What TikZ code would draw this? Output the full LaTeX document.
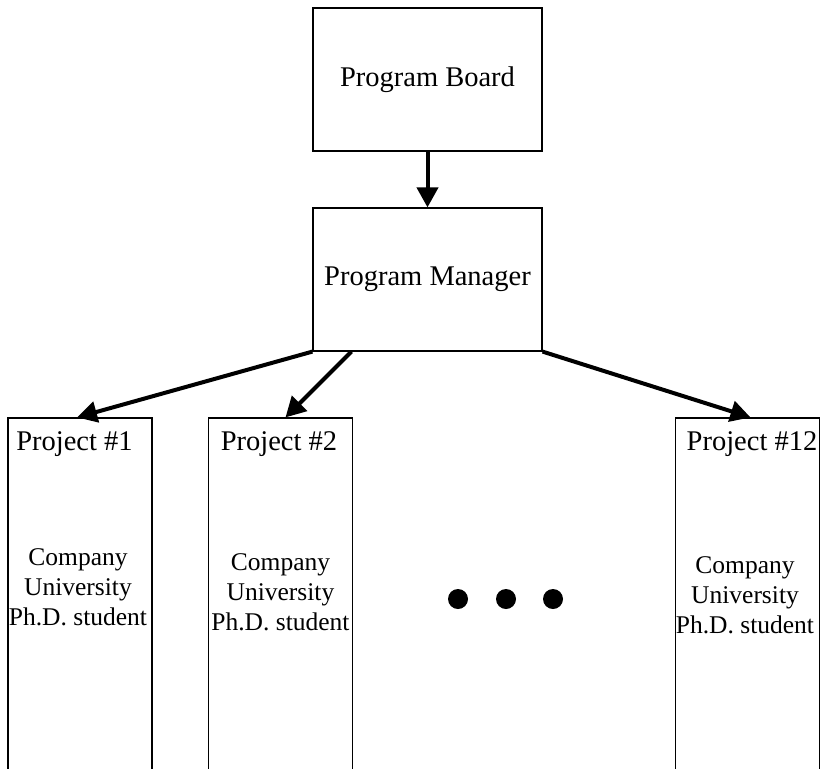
\documentclass[tikz,border=0pt]{standalone}
\usepackage{fontspec}
\setmainfont{Liberation Serif}
\usetikzlibrary{arrows.meta, positioning}

\begin{document}
\begin{tikzpicture}[
    x=1pt, y=-1pt,
    box/.style={
      rectangle, draw, line width=1.2pt,
      minimum width=229pt, minimum height=143pt, inner sep=0pt,
      font=\fontsize{28.5}{30}\selectfont
    },
    projbox/.style={rectangle, draw, line width=1.2pt,
      minimum width=144pt, minimum height=400pt, inner sep=0pt},
    title/.style={font=\fontsize{28.5}{30}\selectfont, inner sep=0pt},
    member/.style={font=\fontsize{25.5}{30}\selectfont, align=center, inner sep=0pt},
    arr/.style={-{Triangle[length=20pt, width=21pt]}, line width=4pt}
  ]

    % Frame (boxes run past the lower edge)
    \path[use as bounding box] (0,0) rectangle (820,769);
    \clip (0,0) rectangle (820,769);

    % Top of the chart
    \node[box] (board) at (427.5,79.5)  {Program Board};
    \node[box] (mgr)   at (427.5,279.5) {Program Manager};

    % Projects
    \node[projbox] (p1)  at (80,618)    {};
    \node[projbox] (p2)  at (280.5,618) {};
    \node[projbox] (p12) at (747.5,618) {};

    \node[title, below=14pt of p1.north,  xshift=-5.5pt] (t1)  {Project \#1};
    \node[title, below=14pt of p2.north,  xshift=-1.5pt] (t2)  {Project \#2};
    \node[title, below=14pt of p12.north, xshift=4.5pt]  (t12) {Project \#12};

    \node[member, xshift=-2pt,   yshift=31pt] (m1)  at (p1)  {Company\\University\\Ph.D. student};
    \node[member,                yshift=26pt] (m2)  at (p2)  {Company\\University\\Ph.D. student};
    \node[member, xshift=-2.5pt, yshift=23pt] (m12) at (p12) {Company\\University\\Ph.D. student};

    % Dots between the projects
    \foreach \dx in {458,506,553}
      \fill (\dx,599) circle (10pt);

    % Arrows
    \draw[arr] (board) -- (mgr);
    \draw[arr] (mgr.south west) -- ([xshift=-3pt]p1.north);
    \draw[arr] ([xshift=39pt]mgr.south west) -- ([xshift=5pt]p2.north);
    \draw[arr] (mgr.south east) -- ([xshift=3pt]p12.north);

  \end{tikzpicture}
\end{document}
